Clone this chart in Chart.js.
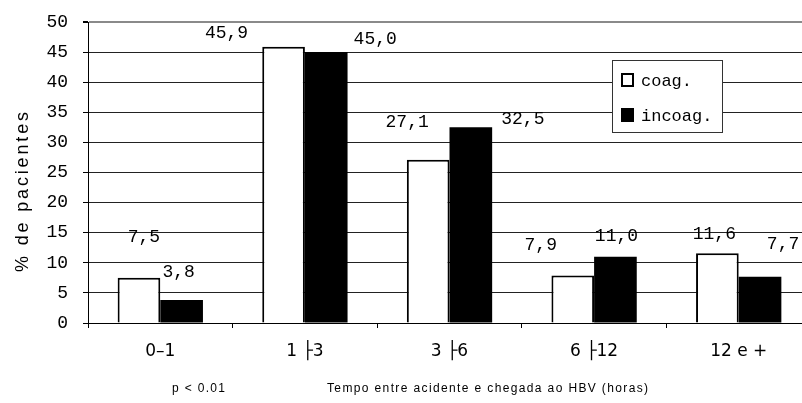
<!DOCTYPE html>
<html>
<head>
<meta charset="utf-8">
<script src="https://cdn.jsdelivr.net/npm/chart.js@4/dist/chart.umd.min.js"></script>
<style>
html,body{margin:0;padding:0;overflow:hidden;background:#fff;width:802px;height:403px}
#wrap{position:absolute;left:0;top:0;width:811px;height:403px}
</style>
</head>
<body>
<div id="wrap"><canvas id="c" width="811" height="403"></canvas></div>
<script>
// ---- data ----
const categories = ['0–1', '1 ├3', '3 ├6', '6 ├12', '12 e +'];
const coag = [7.5, 45.9, 27.1, 7.9, 11.6];
const incoag = [3.8, 45.0, 32.5, 11.0, 7.7];
const seriesNames = ['coag.', 'incoag.'];
const yMin = 0, yMax = 50, yStep = 5;
const yTitle = '% de pacientes';
const xTitle = 'Tempo entre acidente e chegada ao HBV (horas)';
const pNote = 'p < 0.01';

// ---- layout (label offsets relative to bar top-centre, px) ----
const labelOffsets = [
  [[5, -41], [-57, -13.5], [-21, -38], [-32, -30], [-3, -19]],
  [[-3, -28], [49, -12.5], [52, -8], [1, -21], [23, -32]]
];

function fitText(ctx, text, x, y, target, align) {
  ctx.save();
  ctx.letterSpacing = '0px';
  const w = ctx.measureText(text).width;
  const ls = (target - w) / Math.max(1, text.length - 1);
  ctx.letterSpacing = ls.toFixed(2) + 'px';
  ctx.textAlign = align || 'left';
  ctx.fillText(text, x, y);
  ctx.restore();
}

const overlay = {
  id: 'overlay',
  afterDatasetsDraw(chart) {
    const ctx = chart.ctx;
    ctx.save();
    ctx.font = '18px "Liberation Mono"';
    ctx.fillStyle = '#000';
    ctx.textAlign = 'center';
    ctx.textBaseline = 'middle';
    chart.data.datasets.forEach((ds, di) => {
      const meta = chart.getDatasetMeta(di);
      meta.data.forEach((el, i) => {
        const txt = ds.data[i].toFixed(1).replace('.', ',');
        const o = labelOffsets[di][i];
        ctx.fillText(txt, el.x + o[0], el.y + o[1]);
      });
    });
    ctx.restore();
  },
  afterDraw(chart) {
    const ctx = chart.ctx;
    // legend
    ctx.save();
    ctx.fillStyle = '#fff';
    ctx.fillRect(612, 60, 111, 73);
    ctx.strokeStyle = '#333';
    ctx.lineWidth = 1;
    ctx.strokeRect(612.5, 60.5, 110, 72);
    const ds = chart.data.datasets;
    const rows = [73, 108];
    ds.forEach((d, i) => {
      const y = rows[i];
      ctx.fillStyle = d.backgroundColor;
      ctx.fillRect(621, y, 13, 14);
      if (d.borderWidth) {
        ctx.strokeStyle = d.borderColor;
        ctx.lineWidth = 2;
        ctx.strokeRect(622, y + 1, 11, 12);
      }
      ctx.fillStyle = '#000';
      ctx.font = '17px "Liberation Mono"';
      ctx.textBaseline = 'alphabetic';
      ctx.textAlign = 'left';
      ctx.fillText(d.label, 641, y + 13);
    });
    ctx.restore();

    // y title
    ctx.save();
    ctx.translate(28, 192);
    ctx.rotate(-Math.PI / 2);
    ctx.font = '18px "Liberation Sans", Arial, sans-serif';
    ctx.fillStyle = '#000';
    ctx.textBaseline = 'alphabetic';
    fitText(ctx, yTitle, -80, 0, 160, 'left');
    ctx.restore();

    // bottom texts
    ctx.save();
    ctx.font = '12px "Liberation Sans", Arial, sans-serif';
    ctx.fillStyle = '#000';
    ctx.textBaseline = 'alphabetic';
    fitText(ctx, pNote, 172, 392, 53, 'left');
    fitText(ctx, xTitle, 327, 392, 321, 'left');
    ctx.restore();
  }
};

new Chart(document.getElementById('c'), {
  type: 'bar',
  data: {
    labels: categories,
    datasets: [
      { label: seriesNames[0], data: coag, backgroundColor: '#fff', borderColor: '#000', borderWidth: 2,
        categoryPercentage: 0.59, barPercentage: 1.0 },
      { label: seriesNames[1], data: incoag, backgroundColor: '#000', borderColor: '#000', borderWidth: 0,
        categoryPercentage: 0.59, barPercentage: 1.0 }
    ]
  },
  options: {
    responsive: false,
    animation: false,
    devicePixelRatio: 1,
    layout: { padding: { top: 22, right: 0, left: 0, bottom: 0 } },
    plugins: { legend: { display: false }, tooltip: { enabled: false }, title: { display: false } },
    scales: {
      x: {
        offset: true,
        afterFit(s) { s.height = 80; s.paddingLeft = 0; s.paddingRight = 0; },
        grid: { display: true, drawOnChartArea: false, drawTicks: true, tickLength: 5, color: '#000', offset: true },
        border: { display: true, color: '#000', width: 1 },
        ticks: { font: { family: 'DejaVu Sans', size: 17 }, color: '#000', padding: 13, maxRotation: 0, autoSkip: false }
      },
      y: {
        min: yMin, max: yMax,
        afterFit(s) { s.width = 88; s.paddingTop = 0; s.paddingBottom = 0; },
        grid: {
          drawTicks: true, tickLength: 5,
          color: (c) => c.tick && c.tick.value === yMax ? '#8a8a8a' : '#222',
          lineWidth: (c) => c.tick && c.tick.value === yMax ? 2 : 1,
          tickColor: '#000'
        },
        border: { display: true, color: '#000', width: 1 },
        ticks: { stepSize: yStep, font: { family: 'Liberation Mono', size: 18 }, color: '#000', padding: 15 }
      }
    }
  },
  plugins: [overlay]
});
</script>
</body>
</html>
